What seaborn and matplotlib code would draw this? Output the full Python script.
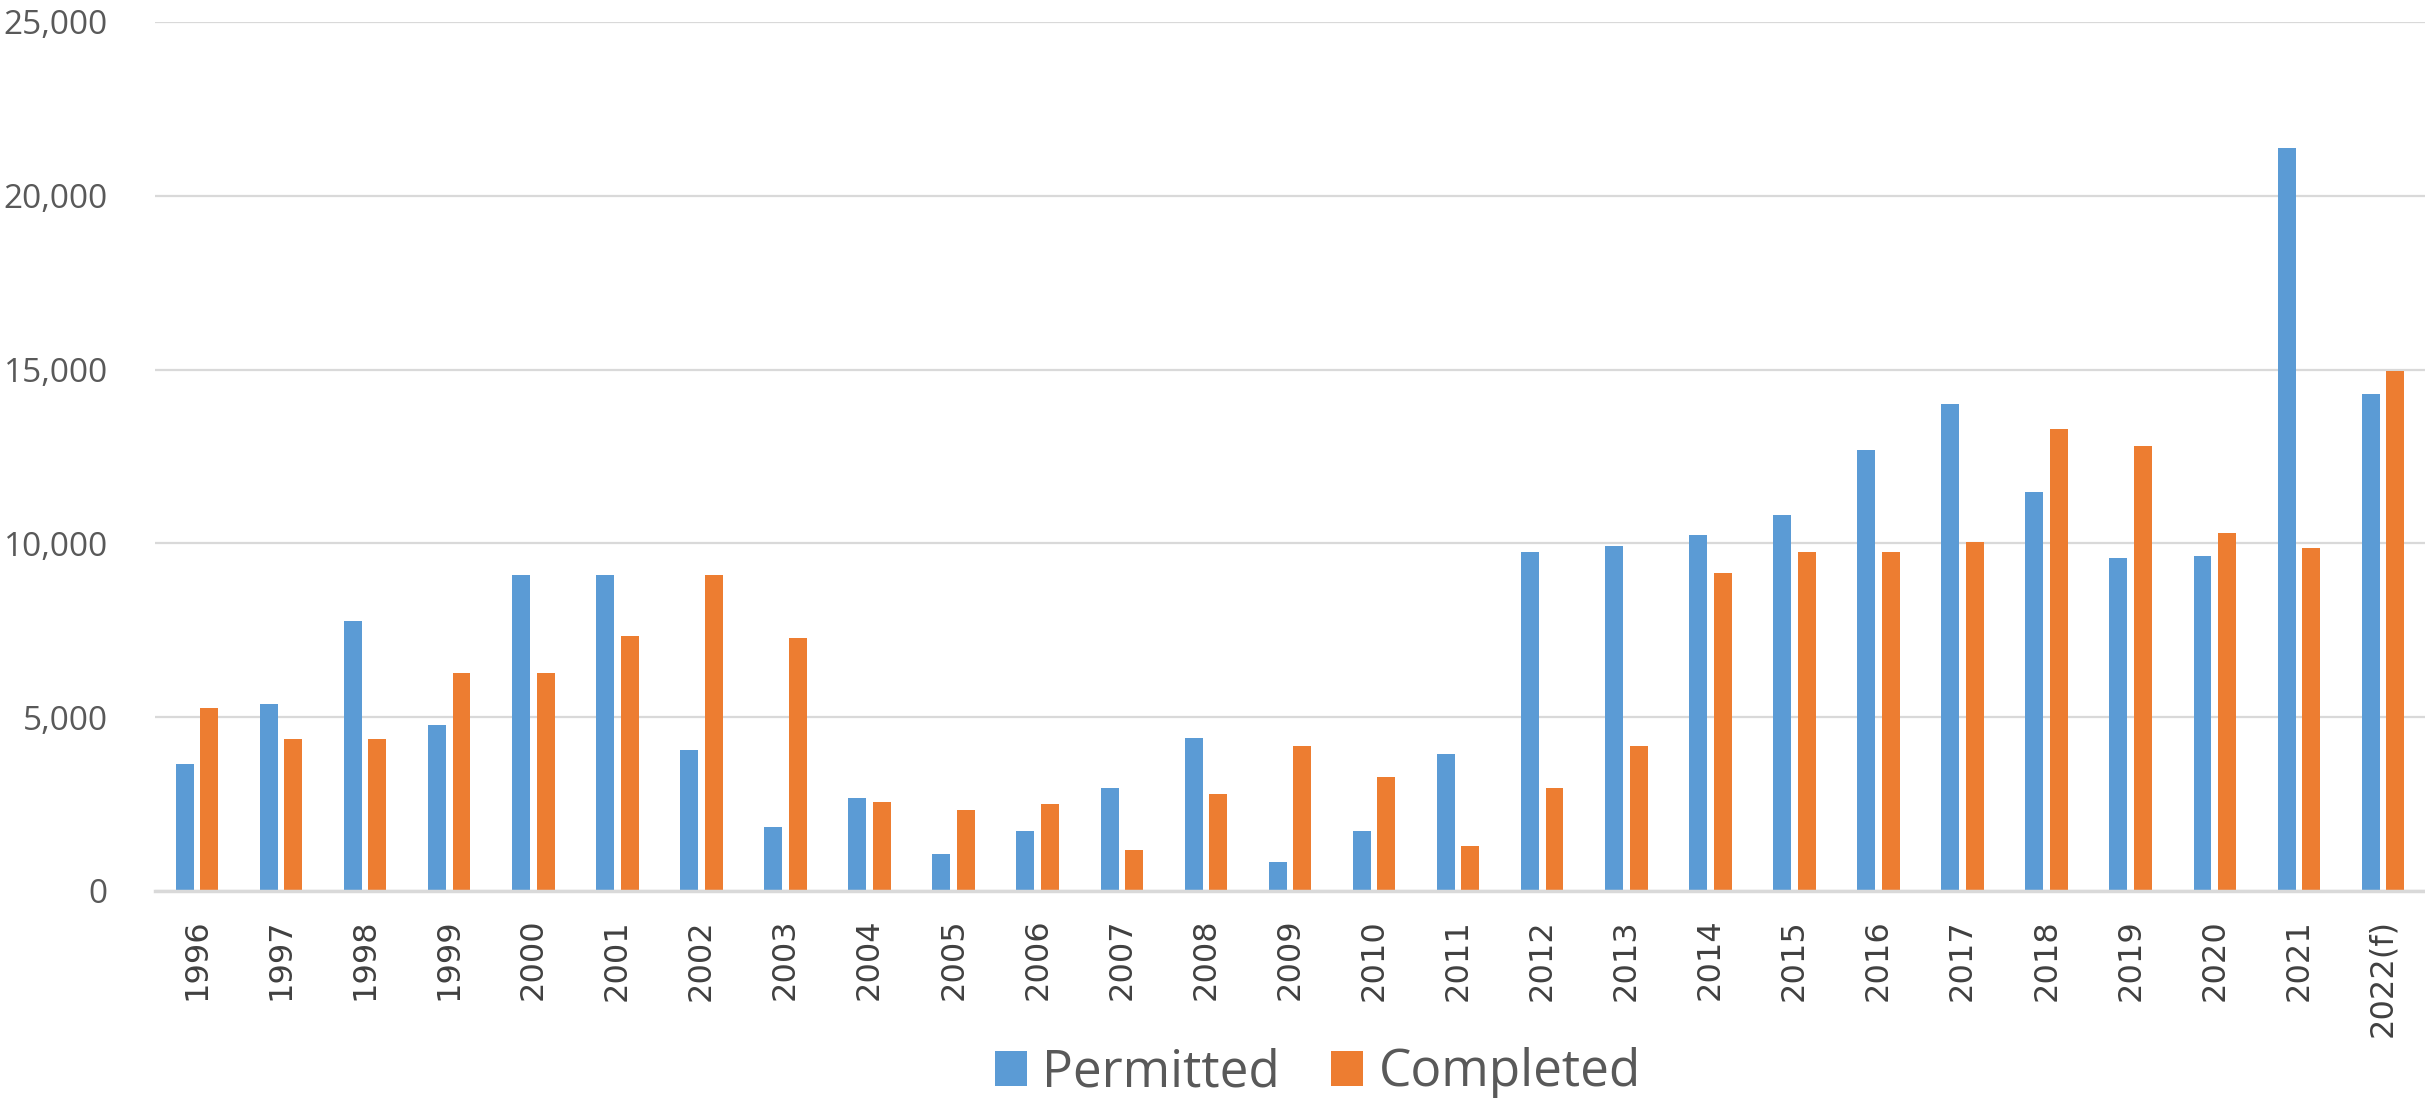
import numpy as np
import pandas as pd
import matplotlib
matplotlib.use("Agg")
import matplotlib.pyplot as plt
from matplotlib.patches import Patch
from matplotlib.ticker import FuncFormatter
import seaborn as sns

# Housing units per year
years = ["1996", "1997", "1998", "1999", "2000", "2001", "2002", "2003", "2004",
         "2005", "2006", "2007", "2008", "2009", "2010", "2011", "2012", "2013",
         "2014", "2015", "2016", "2017", "2018", "2019", "2020", "2021", "2022(f)"]
permitted = [3640, 5370, 7770, 4770, 9080, 9080, 4050, 1830, 2680,
             1060, 1720, 2970, 4410, 820, 1720, 3930, 9750, 9930,
             10230, 10820, 12680, 14000, 11490, 9570, 9630, 21380, 14300]
completed = [5260, 4360, 4360, 6280, 6280, 7340, 9080, 7290, 2560,
             2320, 2500, 1180, 2800, 4170, 3270, 1300, 2970, 4170,
             9140, 9750, 9750, 10050, 13280, 12800, 10290, 9870, 14970]
series = ["Permitted", "Completed"]
colors = ["#5B9BD5", "#ED7D31"]

df = pd.DataFrame({
    "year": years * 2,
    "units": permitted + completed,
    "series": [series[0]] * len(years) + [series[1]] * len(years),
})

sns.set_theme(style="white")
plt.rcParams["font.family"] = ["Open Sans", "DejaVu Sans"]

fig = plt.figure(figsize=(24.25, 11.1), dpi=100)
ax = fig.add_axes([0.0639, 0.1973, 0.9361, 0.7829])

sns.barplot(data=df, x="year", y="units", hue="series", hue_order=series,
            palette=colors, width=0.585, gap=0.27, linewidth=0,
            saturation=1, legend=False, ax=ax, errorbar=None)

ax.set_xlim(-0.5, len(years) - 0.5)
ax.set_ylim(0, 25000)
ax.set_yticks(np.arange(0, 25001, 5000))
ax.yaxis.set_major_formatter(FuncFormatter(lambda v, p: f"{int(v):,}"))
ax.set_xlabel("")
ax.set_ylabel("")

ax.yaxis.grid(True, color="#D9D9D9", linewidth=1.6)
ax.set_axisbelow(True)
for side in ["top", "right", "left"]:
    ax.spines[side].set_visible(False)
ax.spines["bottom"].set_color("#D9D9D9")
ax.spines["bottom"].set_linewidth(2.5)

ax.tick_params(axis="y", length=0, pad=34, labelsize=24, labelcolor="#595959")
ax.tick_params(axis="x", length=0, pad=20)
for lbl in ax.get_xticklabels():
    lbl.set_rotation(90)
    lbl.set_family("DejaVu Sans")
    lbl.set_fontsize(23)
    lbl.set_color("#404040")
    lbl.set_va("top")
    lbl.set_ha("center")

handles = [Patch(facecolor=c, edgecolor="none", label=s) for c, s in zip(colors, series)]
fig.legend(handles=handles, loc="center", bbox_to_anchor=(1318 / 2425, 1 - 1073 / 1110),
           ncol=2, frameon=False, fontsize=37, labelcolor="#595959",
           handlelength=0.62, handleheight=0.68, handletextpad=0.3,
           columnspacing=1.0)

fig.savefig("out.png", dpi=100, facecolor="white")
